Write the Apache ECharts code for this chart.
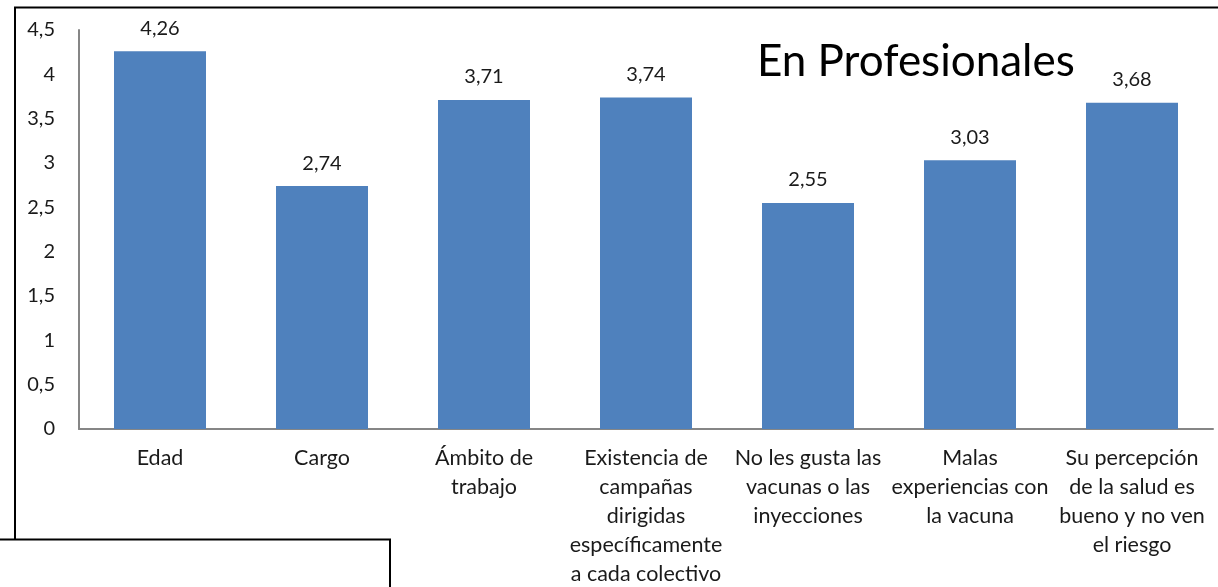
<!DOCTYPE html>
<html>
<head>
<meta charset="utf-8">
<script src="https://cdn.jsdelivr.net/npm/echarts@6/dist/echarts.min.js"></script>
<style>
  html, body { margin: 0; padding: 0; background: #fff; }
  #chart { width: 1218px; height: 587px; }
</style>
</head>
<body>
<div id="chart"></div>
<script>
// categorías (eje x)
var categories = [
  "Edad",
  "Cargo",
  "Ámbito de\ntrabajo",
  "Existencia de\ncampañas\ndirigidas\nespecíficamente\na cada colectivo",
  "No les gusta las\nvacunas o las\ninyecciones",
  "Malas\nexperiencias con\nla vacuna",
  "Su percepción\nde la salud es\nbueno y no ven\nel riesgo"
];
// valores medios
var values = [4.26, 2.74, 3.71, 3.74, 2.55, 3.03, 3.68];
var titleText = "En Profesionales";

var fontFam = "Lato, 'Open Sans', sans-serif";
var comma = function (v) { return String(v).replace(".", ","); };

var chart = echarts.init(document.getElementById("chart"));
var option = {
  backgroundColor: "#fff",
  animation: false,
  title: {
    text: titleText,
    left: 752,
    top: 35,
    textStyle: { fontFamily: fontFam, fontSize: 44, fontWeight: "normal", color: "#000" }
  },
  grid: { left: 79, right: 5, top: 30, bottom: 158, containLabel: false, outerBoundsMode: "none" },
  xAxis: {
    type: "category",
    data: categories,
    axisLine: { lineStyle: { color: "#868686", width: 2 } },
    axisTick: { show: false },
    axisLabel: {
      interval: 0,
      margin: 15,
      fontFamily: fontFam,
      fontSize: 21.5,
      lineHeight: 29,
      color: "#1a1a1a",
      align: "center"
    }
  },
  yAxis: {
    type: "value",
    min: 0,
    max: 4.5,
    interval: 0.5,
    axisLine: { show: true, lineStyle: { color: "#868686", width: 2 } },
    axisTick: { show: false },
    splitLine: { show: false },
    axisLabel: {
      margin: 24,
      fontFamily: fontFam,
      fontSize: 20,
      color: "#1a1a1a",
      formatter: comma
    }
  },
  series: [{
    type: "bar",
    data: values,
    barWidth: 92,
    itemStyle: { color: "#4F81BD" },
    label: {
      show: true,
      position: "top",
      distance: 13,
      fontFamily: fontFam,
      fontSize: 20,
      color: "#1a1a1a",
      formatter: function (p) { return comma(p.value); }
    }
  }],
  graphic: [
    { type: "polyline", shape: { points: [[15, 539], [15, 7.5], [1218, 7.5]] }, style: { stroke: "#000", lineWidth: 2, fill: null } },
    { type: "polyline", shape: { points: [[0, 539.5], [390, 539.5], [390, 587]] }, style: { stroke: "#000", lineWidth: 2, fill: null } }
  ]
};
chart.setOption(option);
window.addEventListener("resize", function () { chart.resize(); });
</script>
</body>
</html>
